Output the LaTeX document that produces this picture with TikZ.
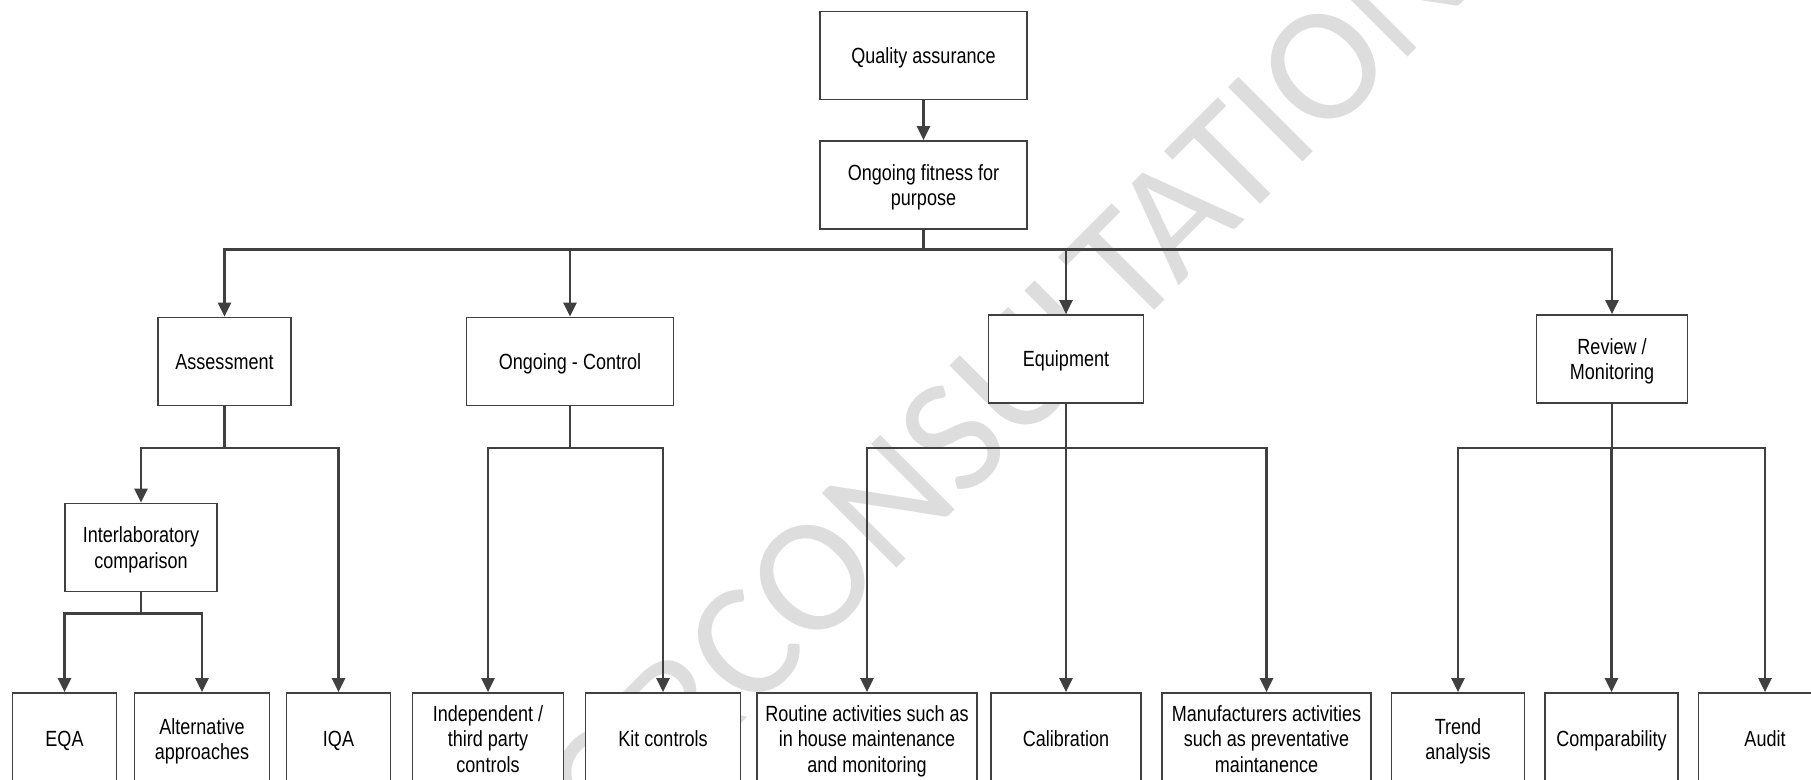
\documentclass[tikz,border=0pt]{standalone}
\usepackage{fontspec}
\setmainfont{Liberation Sans}[FakeStretch=0.82]
\newfontfamily\wmfont{Carlito}
\usetikzlibrary{arrows.meta}
\definecolor{linegray}{HTML}{404040}
\definecolor{wmgray}{HTML}{DDDDDD}

\begin{document}
\begin{tikzpicture}[
    box/.style={draw=linegray, line width=1pt, fill=white, minimum height=1.76cm, align=center, inner sep=2pt, text depth=0pt, font=\fontsize{12.5}{14.4}\selectfont},
    leaf/.style={box, minimum height=1.84cm},
    link/.style={draw=linegray, line width=1.3pt, -{Triangle[length=0.28cm,width=0.26cm]}},
    wmark/.style={text=wmgray, rotate=45, inner sep=0pt, font=\wmfont\fontsize{93.5}{100}\selectfont}]
    \useasboundingbox (0,0) rectangle (36.22,-15.58);
    \clip (0,0) rectangle (36.22,-15.58);
    % watermark behind everything
    \node[wmark, anchor=base west] (wmB) at (15.00,-14.30) {CONSULTATION};
    \node[wmark, anchor=base east] (wmA) at (wmB.base west) {DRAFT FOR\ };
    % bus levels
    \coordinate (bus1) at (0,-4.99);
    \coordinate (bus2) at (0,-8.96);
    \coordinate (bus3) at (0,-12.27);
    % top
    \node[box, minimum width=4.14cm] (qa) at (18.47,-1.11) {Quality assurance};
    \node[box, minimum width=4.14cm] (fit) at (18.47,-3.70) {Ongoing fitness for\\purpose};
    % second level
    \node[box, minimum width=2.66cm] (assess) at (4.49,-7.23) {Assessment};
    \node[box, minimum width=4.14cm] (control) at (11.40,-7.23) {Ongoing - Control};
    \node[box, minimum width=3.10cm] (equip) at (21.32,-7.18) {Equipment};
    \node[box, minimum width=3.02cm] (review) at (32.24,-7.18) {Review /\\Monitoring};
    \node[box, minimum width=3.04cm] (inter) at (2.82,-10.95) {Interlaboratory\\comparison};
    % bottom row
    \node[leaf, minimum width=2.08cm] (eqa) at (1.29,-14.78) {EQA};
    \node[leaf, minimum width=2.70cm] (alt) at (4.04,-14.78) {Alternative\\approaches};
    \node[leaf, minimum width=2.08cm] (iqa) at (6.77,-14.78) {IQA};
    \node[leaf, minimum width=3.02cm] (indep) at (9.76,-14.78) {Independent /\\third party\\controls};
    \node[leaf, minimum width=3.10cm] (kit) at (13.26,-14.78) {Kit controls};
    \node[leaf, minimum width=4.41cm] (routine) at (17.34,-14.78) {Routine activities such as\\in house maintenance\\and monitoring};
    \node[leaf, minimum width=3.00cm] (calib) at (21.32,-14.78) {Calibration};
    \node[leaf, minimum width=4.18cm] (manuf) at (25.33,-14.78) {Manufacturers activities\\such as preventative\\maintanence};
    \node[leaf, minimum width=2.66cm] (trend) at (29.16,-14.78) {Trend\\analysis};
    \node[leaf, minimum width=2.66cm] (compar) at (32.23,-14.78) {Comparability};
    \node[leaf, minimum width=2.66cm] (audit) at (35.30,-14.78) {Audit};
    % connectors
    \draw[link] (qa) -- (fit);
    \foreach \n in {assess,control,equip,review}
        \draw[link] (fit.south) -- (fit.south |- bus1) -| (\n.north);
    \foreach \n in {inter,iqa}
        \draw[link] (assess.south) -- (assess.south |- bus2) -| (\n.north);
    \foreach \n in {eqa,alt}
        \draw[link] (inter.south) -- (inter.south |- bus3) -| (\n.north);
    \foreach \n in {indep,kit}
        \draw[link] (control.south) -- (control.south |- bus2) -| (\n.north);
    \foreach \n in {routine,calib,manuf}
        \draw[link] (equip.south) -- (equip.south |- bus2) -| (\n.north);
    \foreach \n in {trend,compar,audit}
        \draw[link] (review.south) -- (review.south |- bus2) -| (\n.north);
\end{tikzpicture}
\end{document}
